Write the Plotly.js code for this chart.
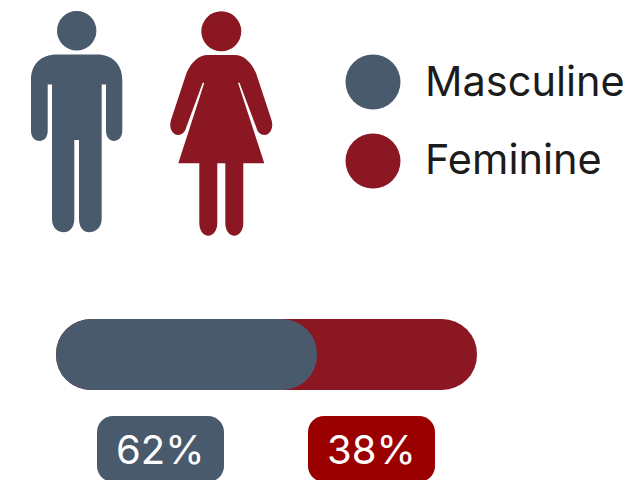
<!DOCTYPE html>
<html>
<head>
<meta charset="utf-8">
<script src="https://cdn.plot.ly/plotly-3.0.1.min.js"></script>
<style>html,body{margin:0;padding:0;background:#fff;overflow:hidden}</style>
</head>
<body>
<div id="chart" style="width:627px;height:480px"></div>
<script>
var categories = ['Masculine', 'Feminine'];
var shares = [62, 38];
var shareLabels = ['62%', '38%'];
var colors = ['#4a5a6d', '#8a1722'];
var badgeColors = ['#4a5a6d', '#9b0000'];

var manPath = 'M57,54.5 H97 C112,54.5 122.3,64 122.3,80 V131 C122.3,137.5 118,141 114,141 C110,141 106,137.5 106,131 V84.5 H101.7 V219 C101.7,228 95,232.3 89,232.3 C84,232.3 79,228 79,219 V140 H74.3 V219 C74.3,228 69,232.3 64,232.3 C58,232.3 52,228 52,219 V84.5 H47.7 V131 C47.7,137.5 44,141 39.5,141 C35,141 31,137.5 31,131 V80 C31,64 41,54.5 57,54.5 Z';
var womanPath = 'M208,55 H234.6 C244,55 251,62 256,73 L271.5,120 C274,128 270,135 264.5,135 C260.5,135 257.5,132 256.5,128 L239.5,82.7 H238 L264.3,163.3 H243.3 V223 C243.3,231 239,235.7 234.3,235.7 C229.5,235.7 225.3,231 225.3,223 V163.3 H217.3 V223 C217.3,231 213,235.7 208.3,235.7 C203.5,235.7 199.3,231 199.3,223 V163.3 H178.3 L204.3,82.7 H202.7 L186,128 C185,132 182,135 178,135 C172.5,135 168.5,128 171,120 L186.5,73 C191.5,62 198.5,55 208,55 Z';

function roundRect(x0, y0, x1, y1, r) {
  var k = r * 0.45;
  return 'M' + (x0 + r) + ',' + y0 + ' H' + (x1 - r) +
    ' C' + (x1 - k) + ',' + y0 + ' ' + x1 + ',' + (y0 + k) + ' ' + x1 + ',' + (y0 + r) +
    ' V' + (y1 - r) +
    ' C' + x1 + ',' + (y1 - k) + ' ' + (x1 - k) + ',' + y1 + ' ' + (x1 - r) + ',' + y1 +
    ' H' + (x0 + r) +
    ' C' + (x0 + k) + ',' + y1 + ' ' + x0 + ',' + (y1 - k) + ' ' + x0 + ',' + (y1 - r) +
    ' V' + (y0 + r) +
    ' C' + x0 + ',' + (y0 + k) + ' ' + (x0 + k) + ',' + y0 + ' ' + (x0 + r) + ',' + y0 + ' Z';
}

var traces = [
  { type: 'bar', orientation: 'h', name: categories[1], x: [shares[0] + shares[1]], base: [0], y: [354.5], width: [71],
    marker: { color: colors[1], cornerradius: 35, line: { width: 0 } }, hoverinfo: 'skip', xaxis: 'x', yaxis: 'y' },
  { type: 'bar', orientation: 'h', name: categories[0], x: [shares[0]], base: [0], y: [354.5], width: [71],
    marker: { color: colors[0], cornerradius: 35, line: { width: 0 } }, hoverinfo: 'skip', xaxis: 'x', yaxis: 'y' },
  { type: 'scatter', mode: 'markers', x: [373, 373], y: [82, 161], text: categories,
    marker: { size: 55, color: colors, line: { width: 0 } }, hoverinfo: 'skip', xaxis: 'x2', yaxis: 'y' }
];

var hidden = { visible: false, showgrid: false, zeroline: false, fixedrange: true };

var layout = {
  width: 627, height: 480,
  margin: { l: 0, r: 0, t: 0, b: 0 },
  paper_bgcolor: '#ffffff', plot_bgcolor: '#ffffff',
  showlegend: false, barmode: 'overlay',
  xaxis: Object.assign({ range: [-56 / 4.21, 571 / 4.21] }, hidden),
  xaxis2: Object.assign({ range: [0, 627], overlaying: 'x' }, hidden),
  yaxis: Object.assign({ range: [480, 0] }, hidden),
  shapes: [
    { type: 'circle', xref: 'x2', yref: 'y', x0: 57, x1: 96.4, y0: 11, y1: 50.4, fillcolor: colors[0], line: { width: 0 } },
    { type: 'path', xref: 'x2', yref: 'y', path: manPath, fillcolor: colors[0], line: { width: 0 } },
    { type: 'circle', xref: 'x2', yref: 'y', x0: 201.3, x1: 241.3, y0: 11.3, y1: 51.3, fillcolor: colors[1], line: { width: 0 } },
    { type: 'path', xref: 'x2', yref: 'y', path: womanPath, fillcolor: colors[1], line: { width: 0 } },
    { type: 'path', xref: 'x2', yref: 'y', path: roundRect(97, 416, 224, 482, 16), fillcolor: badgeColors[0], line: { width: 0 } },
    { type: 'path', xref: 'x2', yref: 'y', path: roundRect(308, 416, 435, 482, 16), fillcolor: badgeColors[1], line: { width: 0 } }
  ],
  annotations: [
    { xref: 'x2', yref: 'y', x: 423, y: 81, xanchor: 'left', yanchor: 'middle', showarrow: false, text: categories[0],
      font: { family: 'Inter', size: 41.5, color: '#1c1c1c' } },
    { xref: 'x2', yref: 'y', x: 423, y: 159, xanchor: 'left', yanchor: 'middle', showarrow: false, text: categories[1],
      font: { family: 'Inter', size: 41.5, color: '#1c1c1c' } },
    { xref: 'x2', yref: 'y', x: 160, y: 449, xanchor: 'center', yanchor: 'middle', showarrow: false, text: shareLabels[0],
      font: { family: 'Inter', size: 40, color: '#ffffff' } },
    { xref: 'x2', yref: 'y', x: 371, y: 449, xanchor: 'center', yanchor: 'middle', showarrow: false, text: shareLabels[1],
      font: { family: 'Inter', size: 40, color: '#ffffff' } }
  ]
};

Plotly.newPlot('chart', traces, layout, { staticPlot: true, displayModeBar: false, responsive: false });
</script>
</body>
</html>
